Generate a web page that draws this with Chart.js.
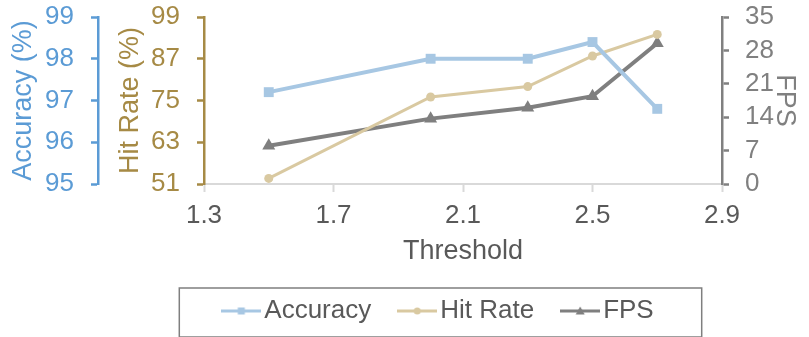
<!DOCTYPE html>
<html>
<head>
<meta charset="utf-8">
<script src="https://cdn.jsdelivr.net/npm/chart.js@4/dist/chart.umd.min.js"></script>
<style>
  html, body { margin: 0; padding: 0; background: #ffffff; }
  #wrap { width: 809px; height: 337px; position: relative; }
</style>
</head>
<body>
<div id="wrap"><canvas id="chart"></canvas></div>
<script>
// Threshold sweep: accuracy, cache hit rate and throughput
const thresholds = [1.5, 2.0, 2.3, 2.5, 2.7];
const accuracy   = [97.2, 98.0, 98.0, 98.4, 96.8];
const hitRate    = [52.6, 76.0, 79.0, 87.8, 94.0];
const fps        = [8.0, 13.7, 16.0, 18.4, 29.5];

const xTicks        = [1.3, 1.7, 2.1, 2.5, 2.9];
const accuracyTicks = [95, 96, 97, 98, 99];
const hitRateTicks  = [51, 63, 75, 87, 99];
const fpsTicks      = [0, 7, 14, 21, 28, 35];

const FONT = "'Liberation Sans', Arial, sans-serif";
const C_ACC_LINE = '#a7c7e3';
const C_HIT_LINE = '#d9c9a1';
const C_FPS_LINE = '#7f7f7f';
const C_ACC_AXIS = '#5b9bd5';
const C_HIT_AXIS = '#a68a45';
const C_FPS_AXIS = '#808080';
const C_TEXT     = '#595959';

const pts = vals => thresholds.map((t, i) => ({ x: t, y: vals[i] }));
const useTicks = list => scale => { scale.ticks = list.map(v => ({ value: v })); };

// small line+marker swatches for the legend
function swatch(color, style) {
  const c = document.createElement('canvas');
  c.width = 40; c.height = 12;
  const g = c.getContext('2d');
  g.strokeStyle = color; g.fillStyle = color; g.lineWidth = 3;
  g.beginPath(); g.moveTo(0, 6); g.lineTo(40, 6); g.stroke();
  g.beginPath();
  if (style === 'rect') g.rect(16.5, 2.5, 7, 7);
  else if (style === 'circle') g.arc(20, 6, 3.5, 0, Math.PI * 2);
  else { g.moveTo(20, 1.5); g.lineTo(24.5, 9.5); g.lineTo(15.5, 9.5); g.closePath(); }
  g.fill();
  return c;
}
const legendIcons = [swatch(C_ACC_LINE, 'rect'), swatch(C_HIT_LINE, 'circle'), swatch(C_FPS_LINE, 'triangle')];

const LEGEND_SHIFT = 38;
const legendFrame = {
  id: 'legendFrame',
  afterLayout(chart) {
    const lg = chart.legend;
    lg.left += LEGEND_SHIFT;
    lg.right += LEGEND_SHIFT;
  },
  afterDraw(chart) {
    const lg = chart.legend;
    const hb = lg.legendHitBoxes;
    if (!hb || !hb.length) return;
    const first = hb[0], last = hb[hb.length - 1];
    const cy = first.top + first.height / 2;
    const x0 = first.left - 52, x1 = last.left + last.width + 48;
    const ctx = chart.ctx;
    ctx.save();
    ctx.strokeStyle = '#7f7f7f';
    ctx.lineWidth = 1.5;
    ctx.strokeRect(x0, cy - 23, x1 - x0, 49);
    ctx.restore();
  }
};

function yAxis(pos, color, min, max, ticks, title, width, weight, titlePad, tickPad) {
  return {
    type: 'linear', position: pos, min, max, weight,
    afterBuildTicks: useTicks(ticks),
    afterFit: s => { s.width = width; s.paddingTop = 0; s.paddingBottom = 0; },
    border: { display: true, color, width: 2.5 },
    grid: { display: true, drawOnChartArea: false, drawTicks: true, tickLength: 7, tickColor: color, tickWidth: 2.5 },
    ticks: { color, padding: tickPad, font: { family: FONT, size: 26, lineHeight: 1 } },
    title: { display: true, text: title, color, padding: { top: titlePad, bottom: titlePad }, font: { family: FONT, size: 27, lineHeight: 1 } }
  };
}

new Chart(document.getElementById('chart'), {
  type: 'line',
  data: {
    datasets: [
      { label: 'Accuracy', data: pts(accuracy), yAxisID: 'yAcc', borderColor: C_ACC_LINE, backgroundColor: C_ACC_LINE,
        borderWidth: 4, pointStyle: 'rect', pointRadius: 7, pointBorderWidth: 0, pointBackgroundColor: C_ACC_LINE },
      { label: 'Hit Rate', data: pts(hitRate), yAxisID: 'yHit', borderColor: C_HIT_LINE, backgroundColor: C_HIT_LINE,
        borderWidth: 3, pointStyle: 'circle', pointRadius: 4.5, pointBorderWidth: 0, pointBackgroundColor: C_HIT_LINE },
      { label: 'FPS', data: pts(fps), yAxisID: 'yFps', borderColor: C_FPS_LINE, backgroundColor: C_FPS_LINE,
        borderWidth: 4, pointStyle: 'triangle', pointRadius: 7.5, pointBorderWidth: 0, pointBackgroundColor: C_FPS_LINE }
    ]
  },
  options: {
    responsive: true,
    maintainAspectRatio: false,
    animation: false,
    layout: { padding: { top: 17, bottom: 3, left: 0, right: 0 } },
    scales: {
      x: {
        type: 'linear', position: 'bottom', min: 1.3, max: 2.9,
        afterBuildTicks: useTicks(xTicks),
        afterFit: s => { s.height = 78; },
        border: { display: true, color: '#d9d9d9', width: 2 },
        grid: { display: true, drawOnChartArea: false, drawTicks: true, tickLength: 8, tickColor: '#d9d9d9', tickWidth: 2 },
        ticks: { color: C_TEXT, padding: 11, font: { family: FONT, size: 26, lineHeight: 1 }, callback: v => Number(v).toFixed(1) },
        title: { display: true, text: 'Threshold', color: C_TEXT, padding: { top: 0, bottom: -3 }, font: { family: FONT, size: 27, lineHeight: 1 } }
      },
      yAcc: yAxis('left', C_ACC_AXIS, 95, 99, accuracyTicks, 'Accuracy (%)', 98, 2, 10.5, 17),
      yHit: yAxis('left', C_HIT_AXIS, 51, 99, hitRateTicks, 'Hit Rate (%)', 106, 1, 19, 17),
      yFps: yAxis('right', C_FPS_AXIS, 0, 35, fpsTicks, 'FPS', 87, 1, 11.5, 16)
    },
    plugins: {
      tooltip: { enabled: false },
      legend: {
        display: true,
        position: 'bottom',
        labels: {
          color: C_TEXT,
          padding: 36,
          usePointStyle: true,
          pointStyleWidth: 20,
          font: { family: FONT, size: 26, lineHeight: 1 },
          generateLabels(chart) {
            const items = Chart.defaults.plugins.legend.labels.generateLabels(chart);
            items.forEach((it, i) => { it.pointStyle = legendIcons[i]; it.fontColor = C_TEXT; });
            return items;
          }
        }
      }
    }
  },
  plugins: [legendFrame]
});
</script>
</body>
</html>
